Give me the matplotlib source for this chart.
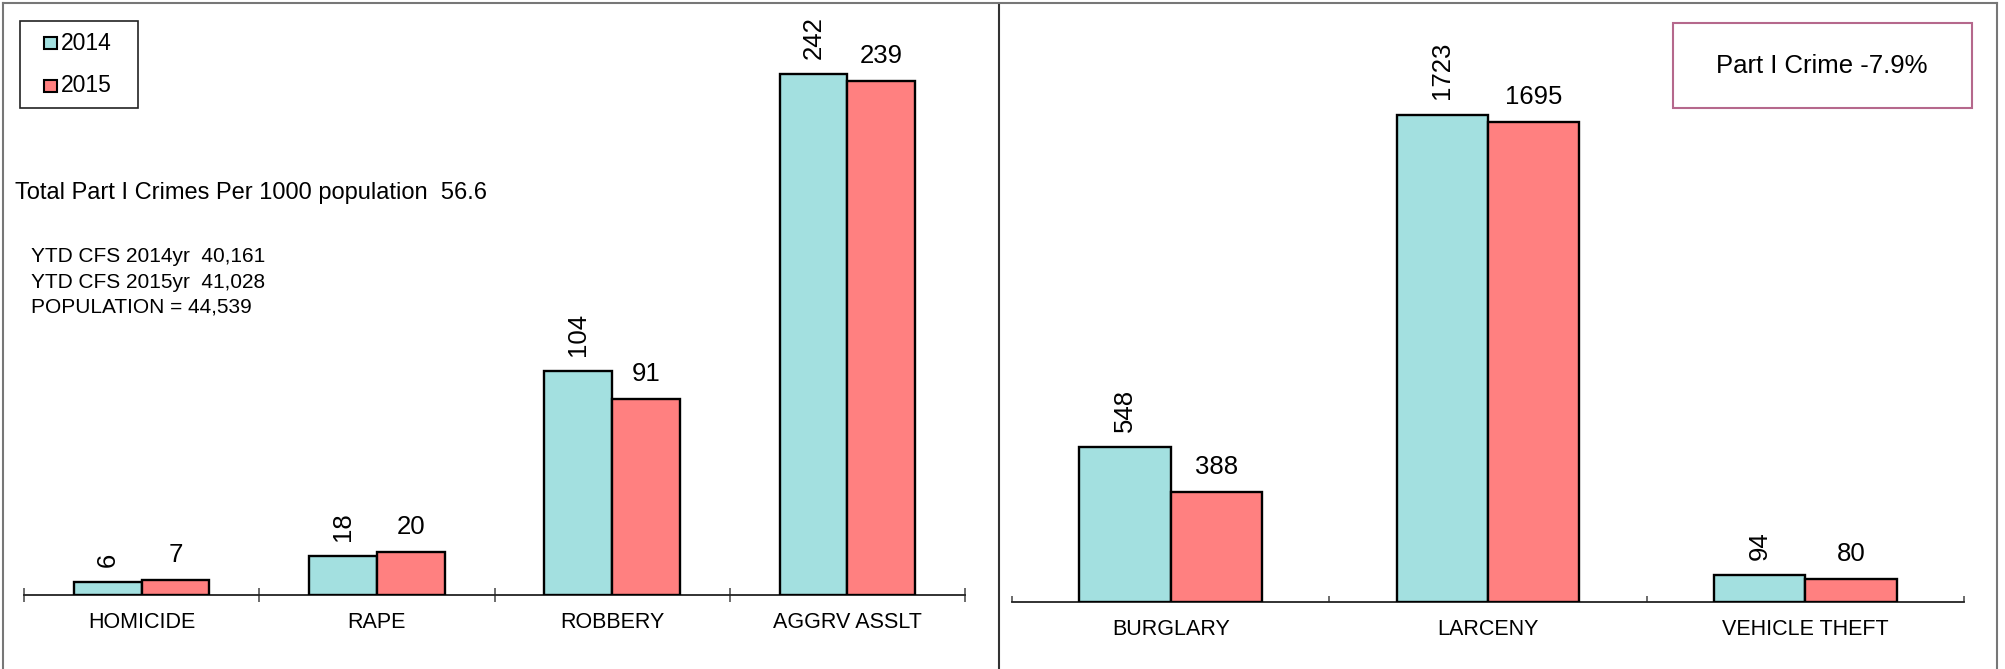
import matplotlib
matplotlib.use('Agg')
import matplotlib.pyplot as plt
import numpy as np
from matplotlib.patches import Rectangle
from matplotlib.lines import Line2D

plt.rcParams['font.family'] = ['Liberation Sans', 'DejaVu Sans']

# ---------------- data ----------------
years = ['2014', '2015']
violent_cats = ['HOMICIDE', 'RAPE', 'ROBBERY', 'AGGRV ASSLT']
violent_2014 = [6, 18, 104, 242]
violent_2015 = [7, 20, 91, 239]
property_cats = ['BURGLARY', 'LARCENY', 'VEHICLE THEFT']
property_2014 = [548, 1723, 94]
property_2015 = [388, 1695, 80]
rate_text = 'Total Part I Crimes Per 1000 population  56.6'
info_lines = ['YTD CFS 2014yr  40,161', 'YTD CFS 2015yr  41,028', 'POPULATION = 44,539']
change_text = 'Part I Crime -7.9%'

C14 = '#A3E0E0'
C15 = '#FF8080'

W, H = 2005, 669
fig = plt.figure(figsize=(W / 100, H / 100), dpi=100)
fig.patch.set_facecolor('white')


def fx(x):
    return x / W


def fy(y):
    return 1 - y / H


def rect_px(x0, y0, x1, y1):
    return [fx(x0), fy(y1), fx(x1) - fx(x0), fy(y0) - fy(y1)]


def draw_panel(ax, cats, v14, v15, ymax, tickdir, ticklen):
    n = len(cats)
    x = np.arange(n)
    w = 0.288
    ax.bar(x - w / 2, v14, w, color=C14, edgecolor='black', linewidth=1.7, zorder=3)
    ax.bar(x + w / 2, v15, w, color=C15, edgecolor='black', linewidth=1.7, zorder=3)
    ax.set_xlim(-0.5, n - 0.5)
    ax.set_ylim(0, ymax)
    ax.set_facecolor('none')
    for s in ['left', 'right', 'top']:
        ax.spines[s].set_visible(False)
    ax.spines['bottom'].set_color('#222222')
    ax.spines['bottom'].set_linewidth(1.3)
    ax.yaxis.set_visible(False)
    ax.set_xticks(x)
    ax.set_xticklabels(cats)
    ax.set_xticks(np.arange(n + 1) - 0.5, minor=True)
    ax.tick_params(axis='x', which='major', length=0, pad=12, labelsize=15.5)
    ax.tick_params(axis='x', which='minor', direction=tickdir, length=ticklen,
                   width=1.1, color='#444444')
    for xi, a, b in zip(x, v14, v15):
        ax.annotate(str(a), (xi - w / 2, a), xytext=(0, 11), textcoords='offset points',
                    ha='center', va='bottom', rotation=90, fontsize=18.5, annotation_clip=False)
        ax.annotate(str(b), (xi + w / 2, b), xytext=(0, 13), textcoords='offset points',
                    ha='center', va='baseline', fontsize=18.5, annotation_clip=False)


ax1 = fig.add_axes(rect_px(24, 15, 965, 595))
draw_panel(ax1, violent_cats, violent_2014, violent_2015, 269.5, 'inout', 9.5)

ax2 = fig.add_axes(rect_px(1012, 15, 1964, 602))
draw_panel(ax2, property_cats, property_2014, property_2015, 2075, 'in', 4)

# ---------------- frame lines ----------------
frame_col = '#777777'
fig.add_artist(Line2D([fx(3), fx(3)], [fy(3), 0], color=frame_col, lw=1.5, transform=fig.transFigure))
fig.add_artist(Line2D([fx(3), fx(1997)], [fy(3), fy(3)], color=frame_col, lw=1.5, transform=fig.transFigure))
fig.add_artist(Line2D([fx(1997), fx(1997)], [fy(3), 0], color=frame_col, lw=1.5, transform=fig.transFigure))
fig.add_artist(Line2D([fx(999), fx(999)], [fy(5), 0], color='#333333', lw=1.5, transform=fig.transFigure))

# ---------------- legend ----------------
fig.add_artist(Rectangle((fx(20), fy(108)), fx(138) - fx(20), fy(21) - fy(108),
                         transform=fig.transFigure, facecolor='white', edgecolor='#222222', lw=1.2))
for yr, col, yc in zip(years, [C14, C15], [43, 86]):
    fig.add_artist(Rectangle((fx(44), fy(yc + 6)), fx(57) - fx(44), fy(yc - 6) - fy(yc + 6),
                             transform=fig.transFigure, facecolor=col, edgecolor='black', lw=1.5))
    fig.text(fx(61), fy(yc), yr, fontsize=16.5, ha='left', va='center')

# ---------------- annotations ----------------
fig.text(fx(15), fy(193), rate_text, fontsize=17, ha='left', va='center')
for line, yc in zip(info_lines, [257, 283, 307]):
    fig.text(fx(31), fy(yc), line, fontsize=15, ha='left', va='center')

fig.add_artist(Rectangle((fx(1673), fy(108)), fx(1972) - fx(1673), fy(23) - fy(108),
                         transform=fig.transFigure, facecolor='white', edgecolor='#B5688C', lw=1.5))
fig.text(fx(1822), fy(66), change_text, fontsize=18.5, ha='center', va='center')

fig.savefig('out.png', dpi=100, facecolor='white')
